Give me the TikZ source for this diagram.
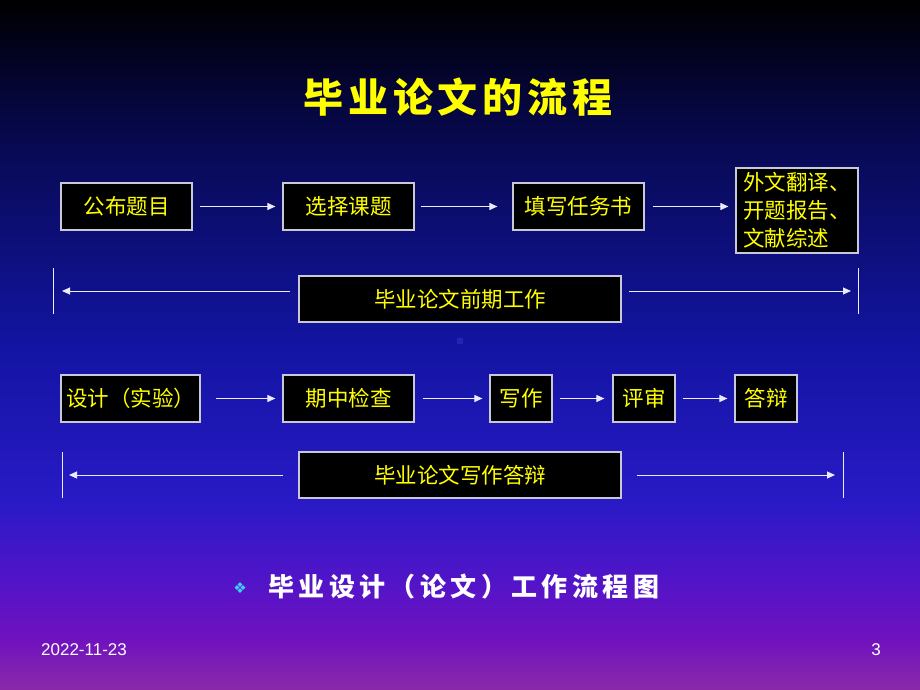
\documentclass[tikz,border=0pt]{standalone}
\usepackage{fontspec}
\usetikzlibrary{arrows.meta,calc}
\newfontfamily\cjk{Noto Sans CJK SC}
\newfontfamily\cjktitle[LetterSpace=12]{Noto Sans CJK SC}
\newfontfamily\cjkcap[LetterSpace=17]{Noto Sans CJK SC}
\newfontfamily\arialf{Liberation Sans}
\newfontfamily\dejavu{DejaVu Sans}
\definecolor{boxline}{RGB}{200,200,215}
\definecolor{txtyellow}{RGB}{255,255,0}
\definecolor{bulletcyan}{RGB}{60,210,255}
\pgfdeclareverticalshading{slidebg}{100bp}{%
  color(0bp)=(rgb,255:red,138;green,42;blue,168);
  color(25bp)=(rgb,255:red,138;green,42;blue,168);
  color(28.62bp)=(rgb,255:red,112;green,18;blue,190);
  color(32.97bp)=(rgb,255:red,82;green,20;blue,200);
  color(38.77bp)=(rgb,255:red,40;green,26;blue,198);
  color(50.36bp)=(rgb,255:red,18;green,20;blue,160);
  color(64.13bp)=(rgb,255:red,8;green,10;blue,85);
  color(71.38bp)=(rgb,255:red,2;green,2;blue,30);
  color(75bp)=(rgb,255:red,0;green,0;blue,0);
  color(100bp)=(rgb,255:red,0;green,0;blue,0)}
\tikzset{
  box/.style={draw=boxline, line width=1.2pt, fill=black, inner sep=0pt,
    text=txtyellow, font=\cjk\fontsize{21.5}{28}\selectfont},
  arr/.style={draw=white!92!blue, line width=1pt, -{Triangle[length=8pt,width=7pt]}},
  wl/.style={draw=white!92!blue, line width=1pt},
}
\begin{document}
\begin{tikzpicture}[x=1pt,y=-1pt]
\useasboundingbox (0,0) rectangle (920,690);
\fill[shading=slidebg] (0,0) rectangle (920,690);
% title
\node[text=txtyellow, font=\cjktitle\bfseries\fontsize{40}{44}\selectfont] (title) at (458,97) {毕业论文的流程};
% row 1
\node[box, minimum width=131pt, minimum height=47pt] (b1) at (126.5,206.5) {公布题目};
\node[box, minimum width=131pt, minimum height=47pt] (b2) at (348.5,206.5) {选择课题};
\node[box, minimum width=131pt, minimum height=47pt] (b3) at (578.5,206.5) {填写任务书};
\node[box, minimum width=122pt, minimum height=85pt, align=left] (b4) at (797,210.5) {外文翻译、\\开题报告、\\文献综述};
\draw[arr, shorten <=7pt, shorten >=7pt] (b1.east) -- (b2.west);
\draw[arr, shorten <=6pt, shorten >=15pt] (b2.east) -- (b3.west);
\draw[arr, shorten <=8pt, shorten >=7pt] (b3.east) -- (b3.east -| b4.west);
% phase 1
\node[box, minimum width=322pt, minimum height=46pt] (p1) at (460,299) {毕业论文前期工作};
\coordinate (l1) at (53.5,291);
\coordinate (r1) at (858,291);
\draw[wl] ([yshift=23pt]l1) -- ([yshift=-23pt]l1);
\draw[wl] ([yshift=23pt]r1) -- ([yshift=-23pt]r1);
\draw[arr, shorten <=8pt, shorten >=8.5pt] ([yshift=8pt]p1.west) -- (l1);
\draw[arr, shorten <=7.5pt, shorten >=7pt] ([yshift=8pt]p1.east) -- (r1);
% small mark
\fill[fill=white!25!blue!75!black, opacity=0.6] (457,338) rectangle (463,344);
% row 2
\node[box, minimum width=139pt, minimum height=47pt] (c1) at (130.5,398.5) {设计（实验）};
\node[box, minimum width=131pt, minimum height=47pt] (c2) at (348.5,398.5) {期中检查};
\node[box, minimum width=62pt, minimum height=47pt] (c3) at (521,398.5) {写作};
\node[box, minimum width=62pt, minimum height=47pt] (c4) at (644,398.5) {评审};
\node[box, minimum width=62pt, minimum height=47pt] (c5) at (766,398.5) {答辩};
\draw[arr, shorten <=15pt, shorten >=7pt] (c1.east) -- (c2.west);
\draw[arr, shorten <=8pt, shorten >=7pt] (c2.east) -- (c3.west);
\draw[arr, shorten <=7pt, shorten >=8pt] (c3.east) -- (c4.west);
\draw[arr, shorten <=7pt, shorten >=7pt] (c4.east) -- (c5.west);
% phase 2
\node[box, minimum width=322pt, minimum height=46pt] (p2) at (460,475) {毕业论文写作答辩};
\coordinate (l2) at (62,475);
\coordinate (r2) at (843,475);
\draw[wl] ([yshift=23pt]l2) -- ([yshift=-23pt]l2);
\draw[wl] ([yshift=23pt]r2) -- ([yshift=-23pt]r2);
\draw[arr, shorten <=15pt, shorten >=7pt] (p2.west) -- (l2);
\draw[arr, shorten <=15pt, shorten >=8pt] (p2.east) -- (r2);
% caption
\node[text=bulletcyan, font=\dejavu\fontsize{15}{16}\selectfont] (bullet) at (240,588) {❖};
\node[anchor=west, inner sep=0pt, text=white, font=\cjkcap\bfseries\fontsize{26}{28}\selectfont] (cap) at (268,587) {毕业设计（论文）工作流程图};
% footer
\node[text=white, font=\arialf\fontsize{17}{18}\selectfont] (date) at (84,650) {2022-11-23};
\node[text=white, font=\arialf\fontsize{17}{18}\selectfont] (page) at (876,650) {3};
\end{tikzpicture}
\end{document}
